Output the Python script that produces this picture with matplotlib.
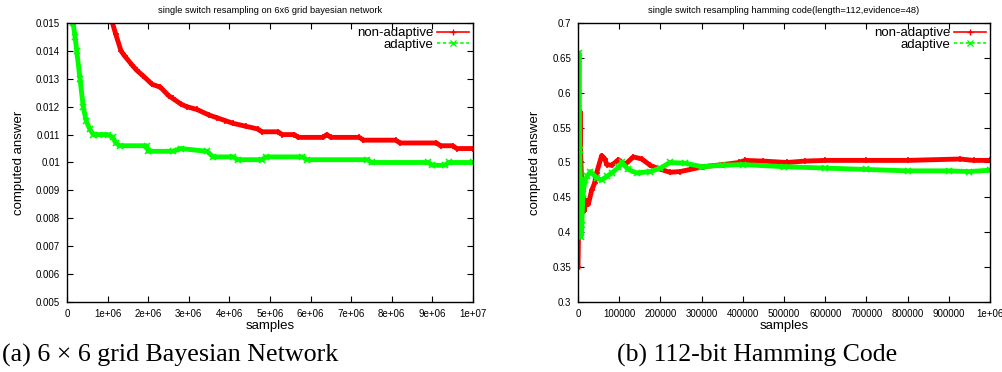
import matplotlib
matplotlib.use("Agg")
import matplotlib.pyplot as plt
from matplotlib.lines import Line2D

plt.rcParams['font.family'] = ['Liberation Sans', 'DejaVu Sans']

# (a) 6x6 grid bayesian network
bn_xticks = [0, 1e6, 2e6, 3e6, 4e6, 5e6, 6e6, 7e6, 8e6, 9e6, 1e7]
bn_xticklabels = ["0", "1e+06", "2e+06", "3e+06", "4e+06", "5e+06",
                  "6e+06", "7e+06", "8e+06", "9e+06", "1e+07"]
bn_yticks = [0.005, 0.006, 0.007, 0.008, 0.009, 0.010,
             0.011, 0.012, 0.013, 0.014, 0.015]
bn_yticklabels = ["0.005", "0.006", "0.007", "0.008", "0.009", "0.01",
                  "0.011", "0.012", "0.013", "0.014", "0.015"]

bn_red_x = [1.12e6, 1.2e6, 1.33e6, 1.43e6, 1.6e6, 1.72e6, 1.88e6, 2.1e6, 2.3e6,
            2.5e6, 2.6e6, 2.8e6, 2.95e6, 3.2e6, 3.5e6, 3.7e6, 3.9e6, 4.1e6,
            4.4e6, 4.7e6, 4.8e6, 5.2e6, 5.3e6, 5.6e6, 5.7e6, 6.3e6, 6.4e6,
            6.5e6, 7.2e6, 7.3e6, 8.1e6, 8.2e6, 9.1e6, 9.2e6, 9.5e6, 9.6e6, 1e7]
bn_red_y = [0.0150, 0.0146, 0.0140, 0.0138, 0.0135, 0.0133, 0.0131, 0.0128,
            0.0127, 0.0124, 0.0123, 0.0121, 0.0120, 0.0119, 0.0117, 0.0116,
            0.0115, 0.0114, 0.0113, 0.0112, 0.0111, 0.0111, 0.0110, 0.0110,
            0.0109, 0.0109, 0.0110, 0.0109, 0.0109, 0.0108, 0.0108, 0.0107,
            0.0107, 0.0106, 0.0106, 0.0105, 0.0105]

bn_green_x = [0.15e6, 0.2e6, 0.24e6, 0.32e6, 0.4e6, 0.47e6, 0.56e6, 0.65e6,
              0.8e6, 1.0e6, 1.13e6, 1.2e6, 1.3e6, 1.96e6, 2.0e6, 2.6e6, 2.8e6,
              3.45e6, 3.6e6, 4.1e6, 4.2e6, 4.8e6, 4.9e6, 5.8e6, 5.9e6, 7.4e6,
              7.5e6, 8.9e6, 9.0e6, 9.3e6, 9.4e6, 1e7]
bn_green_y = [0.0150, 0.0145, 0.0140, 0.0130, 0.0120, 0.0115, 0.0112, 0.0110,
              0.0110, 0.0110, 0.0109, 0.0107, 0.0106, 0.0106, 0.0104, 0.0104,
              0.0105, 0.0104, 0.0102, 0.0102, 0.0101, 0.0101, 0.0102, 0.0102,
              0.0101, 0.0101, 0.0100, 0.0100, 0.0099, 0.0099, 0.0100, 0.0100]

# (b) 112-bit hamming code
hc_xticks = [0, 1e5, 2e5, 3e5, 4e5, 5e5, 6e5, 7e5, 8e5, 9e5, 1e6]
hc_xticklabels = ["0", "100000", "200000", "300000", "400000", "500000",
                  "600000", "700000", "800000", "900000", "1e+06"]
hc_yticks = [0.3, 0.35, 0.4, 0.45, 0.5, 0.55, 0.6, 0.65, 0.7]
hc_yticklabels = ["0.3", "0.35", "0.4", "0.45", "0.5", "0.55", "0.6", "0.65", "0.7"]

hc_red_x = [0, 2400, 4850, 7000, 9000, 12000, 14500, 20000, 25000, 33000,
            40000, 45000, 57500, 65000, 70000, 82000, 98000, 114000, 134000,
            155000, 175000, 191000, 223000, 248000, 272000, 304000, 352000,
            390000, 405000, 450000, 507000, 550000, 600000, 700000, 800000,
            927000, 960000, 1000000]
hc_red_y = [0.35, 0.45, 0.573, 0.50, 0.47, 0.45, 0.43, 0.445, 0.44, 0.46,
            0.47, 0.485, 0.51, 0.505, 0.497, 0.496, 0.504, 0.497, 0.508,
            0.505, 0.496, 0.492, 0.486, 0.487, 0.49, 0.494, 0.497,
            0.500, 0.503, 0.502, 0.500, 0.502, 0.503, 0.503, 0.503,
            0.505, 0.503, 0.503]

hc_green_x = [0, 2400, 4000, 5500, 7000, 9000, 12000, 17000, 22000, 30000,
              45000, 57000, 70000, 82000, 98000, 106000, 122000, 142000,
              175000, 200000, 223000, 260000, 300000, 350000, 400000, 500000,
              600000, 700000, 800000, 900000, 950000, 1000000]
hc_green_y = [0.50, 0.657, 0.518, 0.465, 0.393, 0.41, 0.455, 0.475, 0.48, 0.487,
              0.478, 0.475, 0.48, 0.485, 0.493, 0.50, 0.49, 0.485,
              0.487, 0.492, 0.500, 0.499, 0.494, 0.496, 0.497, 0.494,
              0.492, 0.490, 0.488, 0.488, 0.487, 0.489]

RED = "#ff0000"
GREEN = "#00ff00"


def draw_panel(ax, title, xr, yr, xticks, xticklabels, yticks, yticklabels,
               red_x, red_y, green_x, green_y):
    ax.plot(red_x, red_y, color=RED, lw=3.5, marker="+", ms=5, mew=1.2)
    ax.plot(green_x, green_y, color=GREEN, lw=3.5, marker="x", ms=4, mew=1.2)
    ax.set_xlim(xr)
    ax.set_ylim(yr)
    ax.set_xticks(xticks)
    ax.set_xticklabels(xticklabels)
    ax.set_yticks(yticks)
    ax.set_yticklabels(yticklabels)
    ax.tick_params(direction="in", length=4, width=0.8, labelsize=7,
                   top=True, right=True, pad=5)
    for s in ax.spines.values():
        s.set_linewidth(1.0)
    ax.set_title(title, fontsize=6.7, pad=7)
    ax.set_xlabel("samples", fontsize=9.5, labelpad=1)
    ax.set_ylabel("computed answer", fontsize=9.5, labelpad=8)

    handles = [
        Line2D([], [], color=RED, lw=1.2, marker="+", ms=5, mew=1),
        Line2D([], [], color=GREEN, lw=1.2, ls=(0, (2, 1.5)), marker="x", ms=4, mew=1),
    ]
    ax.legend(handles, ["non-adaptive", "adaptive"], loc="upper right",
              frameon=False, markerfirst=False, fontsize=9.5, numpoints=1,
              handlelength=2.4, handletextpad=0.3, labelspacing=-0.05,
              borderaxespad=0.2, borderpad=0.1)


fig = plt.figure(figsize=(10.03, 3.72), dpi=100)
ax1 = fig.add_axes([0.0668, 0.1882, 0.4048, 0.75])
ax2 = fig.add_axes([0.5763, 0.1882, 0.4108, 0.75])

draw_panel(ax1, "single switch resampling on 6x6 grid bayesian network",
           (0, 1e7), (0.005, 0.015), bn_xticks, bn_xticklabels,
           bn_yticks, bn_yticklabels, bn_red_x, bn_red_y, bn_green_x, bn_green_y)
draw_panel(ax2, "single switch resampling hamming code(length=112,evidence=48)",
           (0, 1e6), (0.3, 0.7), hc_xticks, hc_xticklabels,
           hc_yticks, hc_yticklabels, hc_red_x, hc_red_y, hc_green_x, hc_green_y)

fig.text(0.002, 0.027, "(a) 6 \u00d7 6 grid Bayesian Network", fontsize=18.7,
         family=["Liberation Serif", "DejaVu Serif"], ha="left", va="baseline")
fig.text(0.755, 0.027, "(b) 112-bit Hamming Code", fontsize=18.5,
         family=["Liberation Serif", "DejaVu Serif"], ha="center", va="baseline")

fig.savefig("out.png", dpi=100)
